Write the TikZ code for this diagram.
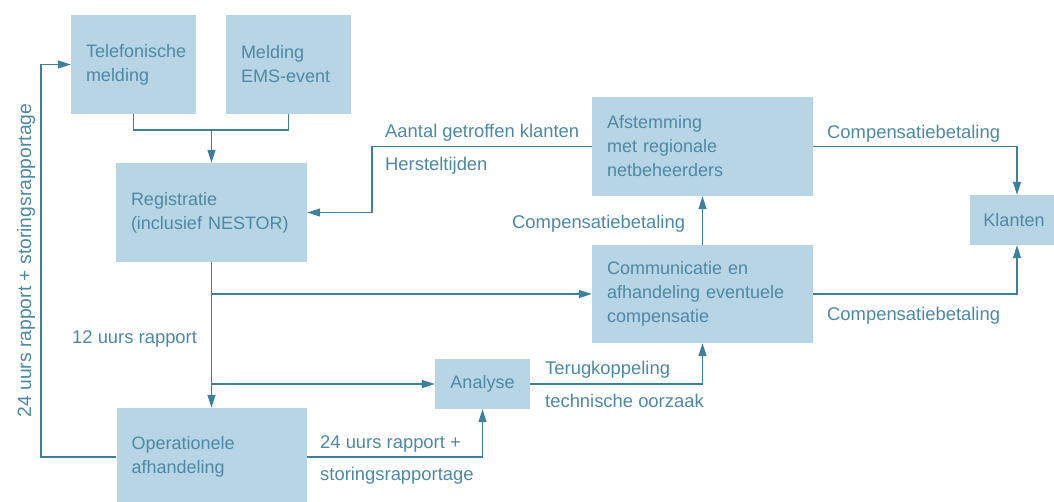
\documentclass[tikz,border=0pt]{standalone}
\usepackage{fontspec}
\setmainfont{Liberation Sans}
\usetikzlibrary{arrows.meta}
\definecolor{boxfill}{HTML}{B7D5E5}
\definecolor{linec}{HTML}{3E7F9B}
\definecolor{txtc}{HTML}{4D88A4}
\begin{document}
\begin{tikzpicture}[x=1pt,y=-1pt,
  every node/.style={font=\fontsize{18}{24}\selectfont, text=txtc},
  blk/.style={fill=boxfill, draw=none, inner xsep=15pt, inner ysep=0pt, align=left},
  cblk/.style={fill=boxfill, draw=none, inner sep=0pt, align=center},
  conn/.style={draw=linec, line width=1.4pt},
  arr/.style={conn, -{Triangle[length=13pt,width=8pt]}},
  lbl/.style={anchor=base west, inner sep=0pt, font=\fontsize{18.4}{24}\selectfont}]
\useasboundingbox (0,0) rectangle (1054,501);

% process blocks
\node[blk, text width=95pt, minimum width=125pt, minimum height=99pt] (tel) at (133.5,64.5) {Telefonische\\melding};
\node[blk, text width=95pt, minimum width=125pt, minimum height=99pt] (ems) at (288.5,64.5) {Melding\\EMS-event};
\node[blk, text width=161pt, minimum width=191pt, minimum height=99pt] (reg) at (211.5,212.5) {Registratie\\(inclusief NESTOR)};
\node[blk, text width=191pt, minimum width=221pt, minimum height=99pt] (afs) at (702.5,146.5) {Afstemming\\met regionale\\netbeheerders};
\node[blk, text width=191pt, minimum width=221pt, minimum height=98pt] (com) at (702.5,294) {Communicatie en\\afhandeling eventuele\\compensatie};
\node[blk, text width=160pt, minimum width=190pt, minimum height=98pt] (ope) at (211.5,457) {Operationele\\afhandeling};
\node[cblk, minimum width=84pt, minimum height=50pt] (kla) at (1012,220) {\hspace{4pt}Klanten};
\node[cblk, minimum width=95pt, minimum height=50pt] (ana) at (482.5,384) {Analyse};

% helper points for the routed connectors
\coordinate (mrg) at (211.5,130);
\coordinate (fb) at (372,146.5);
\coordinate (lp) at (41,64.5);
\coordinate (b1) at (reg.south |- com.west);
\coordinate (b2) at (reg.south |- ana.west);

% connectors
\draw[conn] (tel.south) |- (mrg) -| (ems.south);
\draw[arr] (mrg) -- (reg.north);
\draw[arr] (afs.west) -- (fb) |- (reg.east);
\draw[arr] (afs.east) -| ([xshift=5pt]kla.north);
\draw[arr] (com.east) -| ([xshift=5pt]kla.south);
\draw[arr] (com.north) -- (afs.south);
\draw[arr] (reg.south) -- (ope.north);
\draw[arr] (b1) -- (com.west);
\draw[arr] (b2) -- (ana.west);
\draw[arr] (ana.east) -| (com.south);
\draw[arr] (ope.east) -| (ana.south);
\draw[arr] (ope.west) -| (lp) -- (tel.west);

% connector labels
\node[lbl] (l1) at (385,137) {Aantal getroffen klanten};
\node[lbl] (l2) at (385,170) {Hersteltijden};
\node[lbl] (l3) at (512,228) {Compensatiebetaling};
\node[lbl] (l4) at (827,138) {Compensatiebetaling};
\node[lbl] (l5) at (827,320) {Compensatiebetaling};
\node[lbl] (l6) at (72,343) {12 uurs rapport};
\node[lbl] (l7) at (545,374) {Terugkoppeling};
\node[lbl] (l8) at (545,407) {technische oorzaak};
\node[lbl] (l9) at (320,448) {24 uurs rapport +};
\node[lbl] (l10) at (320,480) {storingsrapportage};
\node[anchor=base, rotate=90, inner sep=0pt, font=\fontsize{19.3}{24}\selectfont] (l11) at (31,260.5) {24 uurs rapport + storingsrapportage};
\end{tikzpicture}
\end{document}
